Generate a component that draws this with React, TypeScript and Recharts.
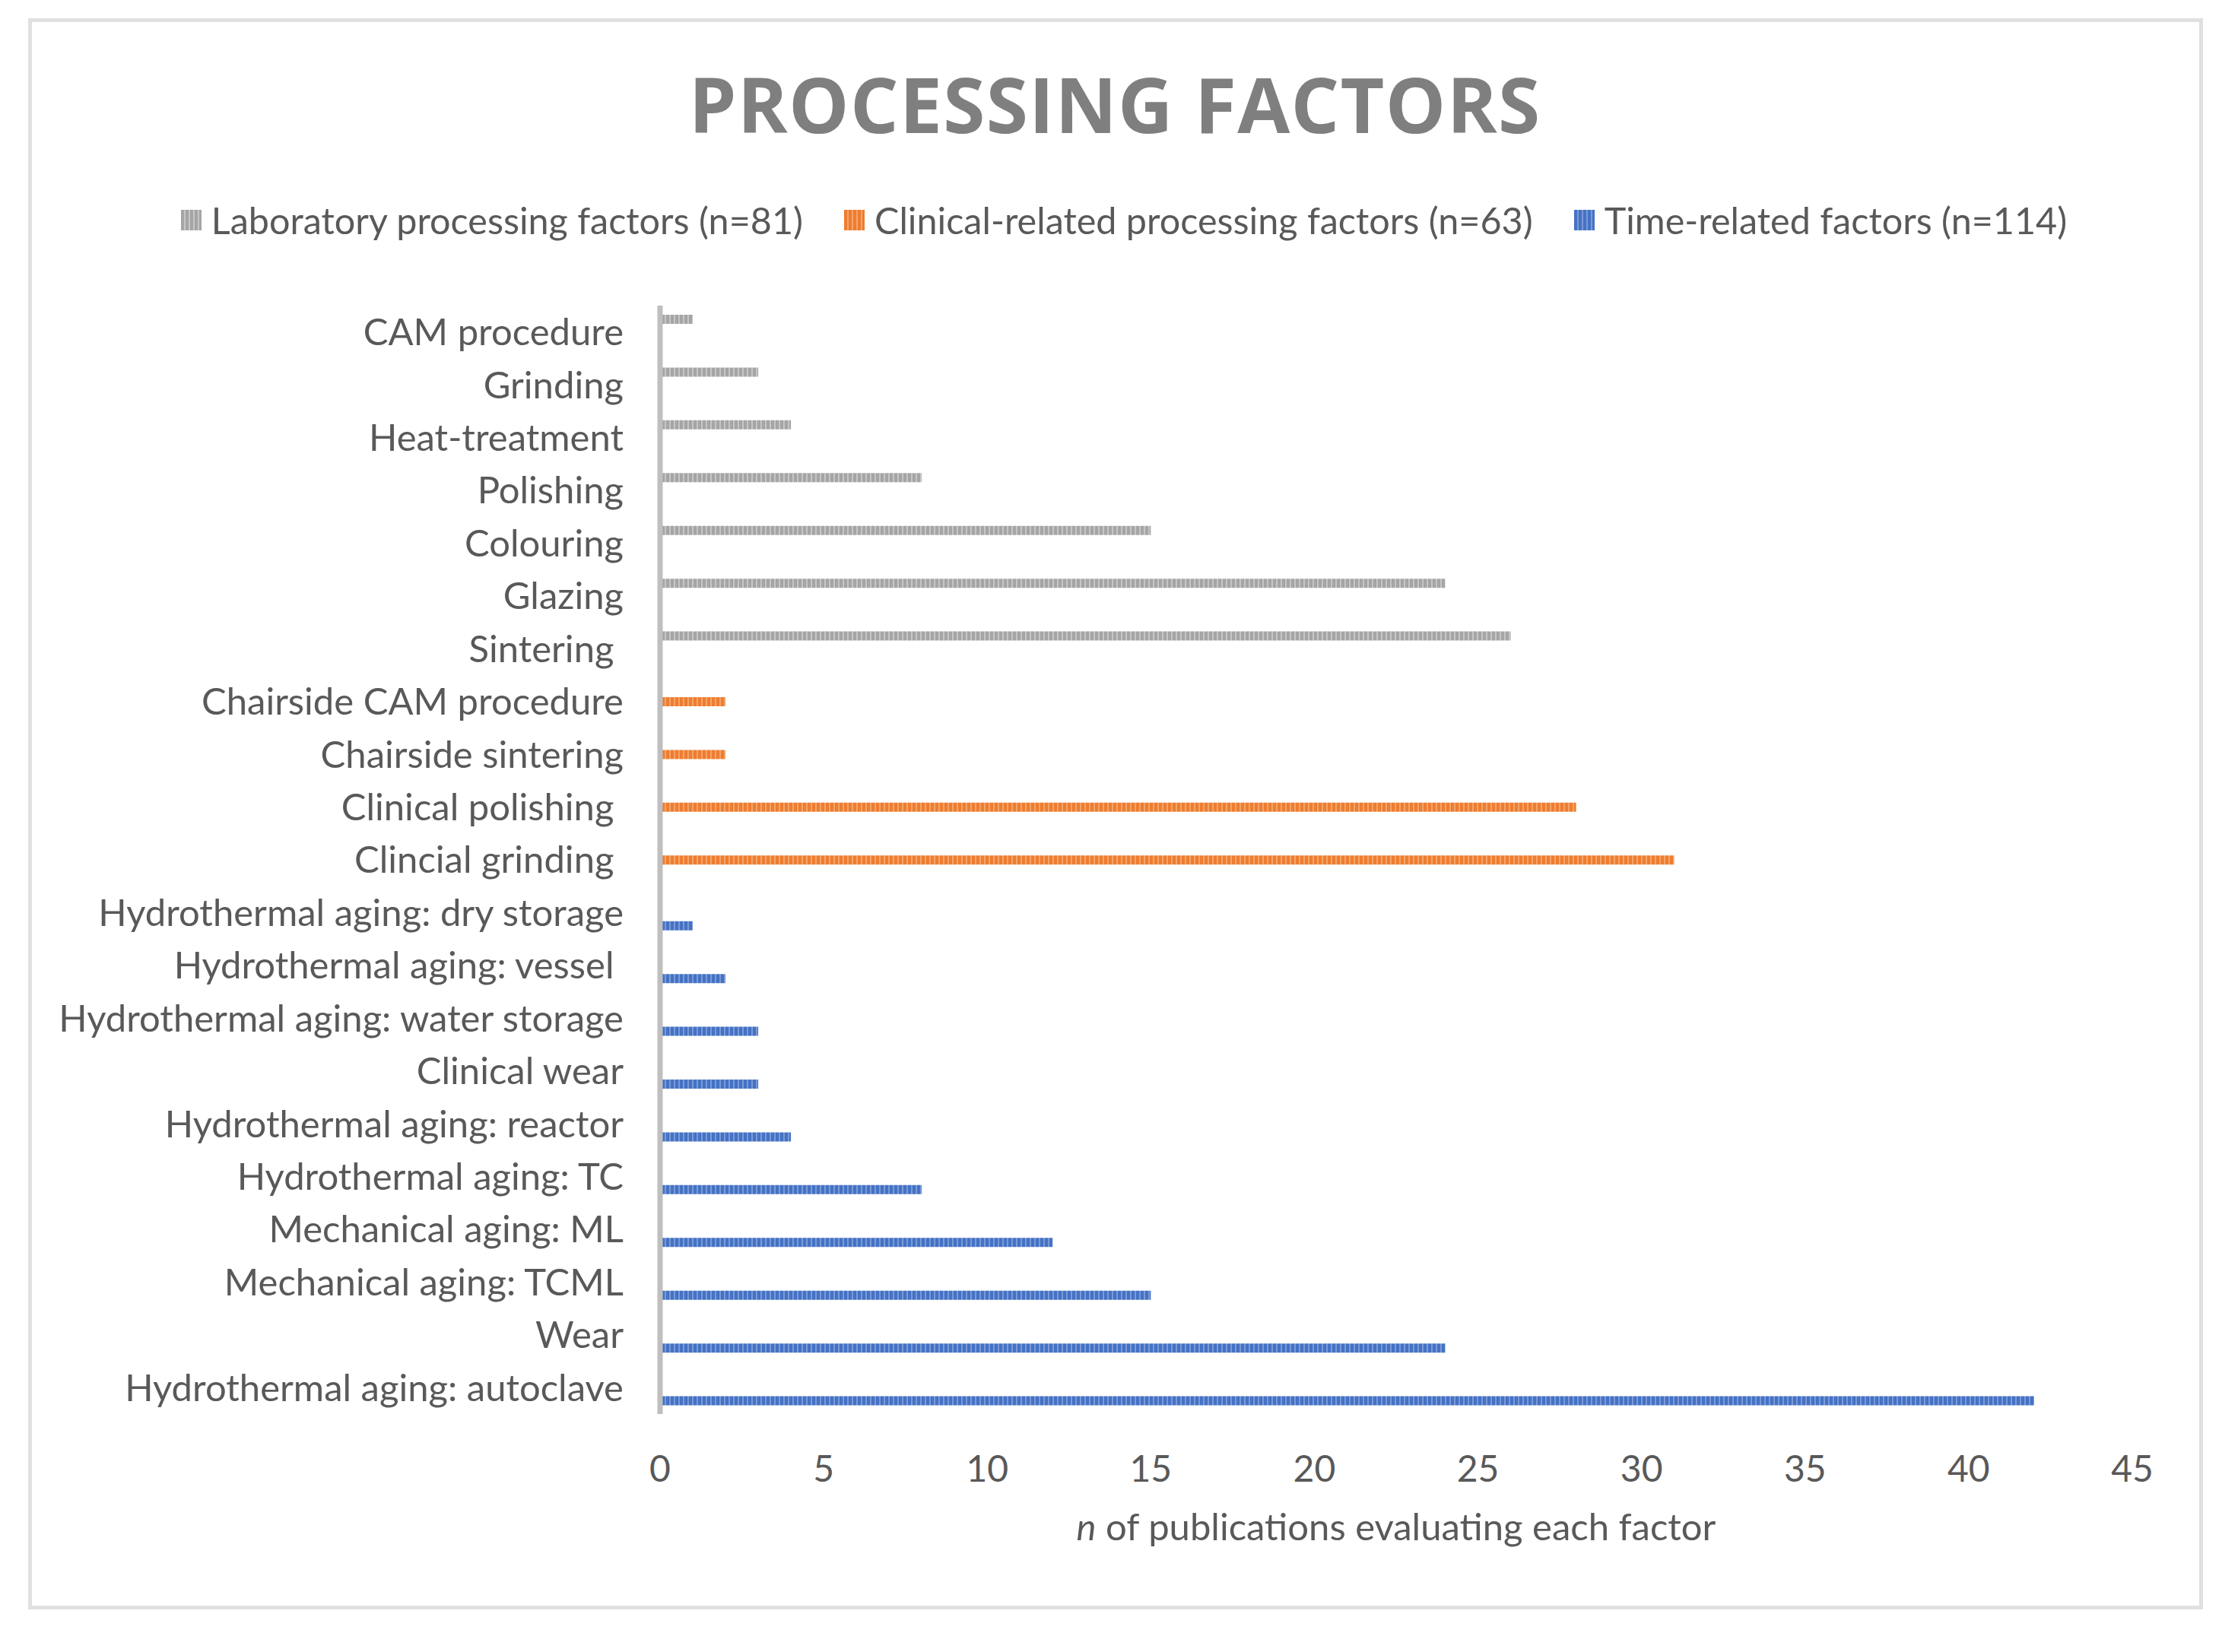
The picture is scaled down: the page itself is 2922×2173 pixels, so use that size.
import { Bar, BarChart, Legend, XAxis, YAxis } from 'recharts'

const categories = [
  'CAM procedure',
  'Grinding',
  'Heat-treatment',
  'Polishing',
  'Colouring',
  'Glazing',
  'Sintering\u00a0',
  'Chairside CAM procedure',
  'Chairside sintering',
  'Clinical polishing\u00a0',
  'Clincial grinding\u00a0',
  'Hydrothermal aging: dry storage',
  'Hydrothermal aging: vessel\u00a0',
  'Hydrothermal aging: water storage',
  'Clinical wear',
  'Hydrothermal aging: reactor',
  'Hydrothermal aging: TC',
  'Mechanical aging: ML',
  'Mechanical aging: TCML',
  'Wear',
  'Hydrothermal aging: autoclave',
]

const laboratory = [1, 3, 4, 8, 15, 24, 26, null, null, null, null, null, null, null, null, null, null, null, null, null, null]
const clinical = [null, null, null, null, null, null, null, 2, 2, 28, 31, null, null, null, null, null, null, null, null, null, null]
const timeRelated = [null, null, null, null, null, null, null, null, null, null, null, 1, 2, 3, 3, 4, 8, 12, 15, 24, 42]

const xTicks = [0, 5, 10, 15, 20, 25, 30, 35, 40, 45]

const series = [
  { key: 'lab', name: 'Laboratory processing factors (n=81)', base: '#a5a5a5', light: '#c6c6c6' },
  { key: 'clin', name: 'Clinical-related processing factors (n=63)', base: '#ed7d31', light: '#f5a468' },
  { key: 'time', name: 'Time-related factors (n=114)', base: '#4472c4', light: '#7a9ad8' },
]

const data = categories.map((name, i) => ({
  name,
  lab: laboratory[i],
  clin: clinical[i],
  time: timeRelated[i],
}))

const font = 'Lato, "Open Sans", sans-serif'
const textColor = '#595959'

function LegendContent() {
  return (
    <div
      style={{
        display: 'flex',
        justifyContent: 'center',
        alignItems: 'center',
        gap: 54,
        fontFamily: font,
        fontSize: 48.5,
        color: textColor,
        height: 60,
        whiteSpace: 'nowrap',
        paddingLeft: 34,
      }}
    >
      {series.map((s) => (
        <div key={s.key} style={{ display: 'flex', alignItems: 'center', gap: 13 }}>
          <svg width={27} height={27}>
            <rect width={27} height={27} fill={s.base} />
            {[4, 10, 16, 22].map((x) => (
              <rect key={x} x={x} width={2} height={27} fill={s.light} />
            ))}
          </svg>
          <span>{s.name}</span>
        </div>
      ))}
    </div>
  )
}

function AxisTitle(props: any) {
  const { viewBox } = props
  const cx = viewBox.x + viewBox.width / 2
  return (
    <text x={cx} y={viewBox.y + 166} textAnchor='middle' fontFamily={font} fontSize={49} fill={textColor}>
      <tspan fontStyle='italic'>n</tspan>
      <tspan> of publications evaluating each factor</tspan>
    </text>
  )
}

export default function App() {
  return (
    <div style={{ position: 'absolute', left: 0, top: 0, width: 2922, height: 2173, background: '#fff' }}>
      <div
        style={{
          position: 'absolute',
          left: 37,
          top: 24,
          width: 2860,
          height: 2093,
          boxSizing: 'border-box',
          border: '5px solid #e0e0e0',
        }}
      />
      <div
        style={{
          position: 'absolute',
          left: 0,
          top: 86,
          width: 2932,
          textAlign: 'center',
          fontFamily: '"Open Sans", sans-serif',
          fontWeight: 700,
          fontSize: 100,
          lineHeight: '100px',
          letterSpacing: 1.3,
          color: '#7f7f7f',
          whiteSpace: 'nowrap',
        }}
      >
        PROCESSING FACTORS
      </div>
      <BarChart
        width={2922}
        height={2173}
        data={data}
        layout='vertical'
        margin={{ top: 402, right: 118, bottom: 163, left: 0 }}
        barSize={12}
        barGap={5}
      >
        <defs>
          {series.map((s) => (
            <pattern key={s.key} id={`pat-${s.key}`} width={6} height={12} patternUnits='userSpaceOnUse'>
              <rect width={6} height={12} fill={s.base} />
              <rect x={4} width={2} height={12} fill={s.light} />
            </pattern>
          ))}
        </defs>
        <XAxis
          type='number'
          domain={[0, 45]}
          ticks={xTicks}
          axisLine={false}
          tickLine={false}
          tickMargin={49}
          height={150}
          tick={{ fill: textColor, fontSize: 48, fontFamily: font }}
          label={<AxisTitle />}
        />
        <YAxis
          type='category'
          dataKey='name'
          width={868}
          tickLine={false}
          tickMargin={42}
          axisLine={{ stroke: '#bfbfbf', strokeWidth: 7 }}
          tick={{ fill: textColor, fontSize: 49, fontFamily: font }}
          interval={0}
        />
        <Legend
          verticalAlign='middle'
          align='center'
          layout='horizontal'
          content={<LegendContent />}
          wrapperStyle={{ top: 259, left: 0, width: 2922 }}
        />
        {series.map((s) => (
          <Bar key={s.key} dataKey={s.key} name={s.name} fill={`url(#pat-${s.key})`} isAnimationActive={false} />
        ))}
      </BarChart>
    </div>
  )
}
